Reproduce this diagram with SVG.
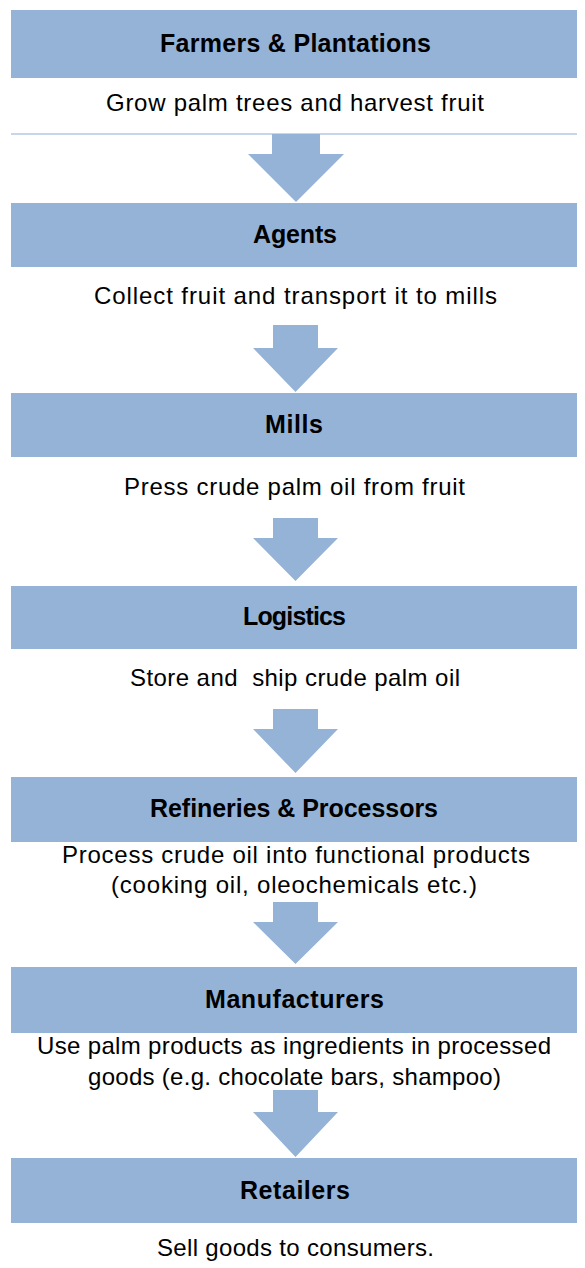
<svg xmlns="http://www.w3.org/2000/svg" width="585" height="1268" viewBox="0 0 585 1268">
<style>
.box{fill:#95b3d7}
.arr{fill:#95b3d7}
.t{font-family:"Liberation Sans",Arial,sans-serif;font-size:25px;font-weight:bold;fill:#000;text-anchor:middle}
.b{font-family:"Liberation Sans",Arial,sans-serif;font-size:24px;fill:#000;text-anchor:middle;white-space:pre}
</style>
<rect width="585" height="1268" fill="#fff"/>
<g id="connectors">
<line x1="11" y1="134" x2="577" y2="134" stroke="#b4c7e7" stroke-width="1.5"/>
<polygon class="arr" points="272,134 320,134 320,154 344,154 296,202 248,154 272,154"/>
<polygon class="arr" points="273,325 318,325 318,348 338,348 295.5,392 253,348 273,348"/>
<polygon class="arr" points="273,518 318,518 318,538 338,538 295.5,581 253,538 273,538"/>
<polygon class="arr" points="273,709 318,709 318,729 338,729 295.5,773 253,729 273,729"/>
<polygon class="arr" points="273,902 318,902 318,922 338,922 295.5,964 253,922 273,922"/>
<polygon class="arr" points="273,1090 318,1090 318,1112 338,1112 295.5,1157 253,1112 273,1112"/>
</g>
<g id="farmers">
<rect class="box" x="11" y="10" width="566" height="68"/>
<text class="t" x="295.5" y="52" textLength="271">Farmers &amp; Plantations</text>
<text class="b" x="295" y="111" textLength="378">Grow palm trees and harvest fruit</text>
</g>
<g id="agents">
<rect class="box" x="11" y="203" width="566" height="64"/>
<text class="t" x="295" y="243" textLength="84">Agents</text>
<text class="b" x="295.5" y="304" textLength="403">Collect fruit and transport it to mills</text>
</g>
<g id="mills">
<rect class="box" x="11" y="393" width="566" height="64"/>
<text class="t" x="294" y="433" textLength="58">Mills</text>
<text class="b" x="294.5" y="495" textLength="341">Press crude palm oil from fruit</text>
</g>
<g id="logistics">
<rect class="box" x="11" y="586" width="566" height="63"/>
<text class="t" x="294.5" y="625" textLength="103">Logistics</text>
<text class="b" x="295" y="686" textLength="330">Store and  ship crude palm oil</text>
</g>
<g id="refineries">
<rect class="box" x="11" y="777" width="566" height="65"/>
<text class="t" x="294" y="817" textLength="288">Refineries &amp; Processors</text>
<text class="b" x="296" y="863" textLength="468">Process crude oil into functional products</text>
<text class="b" x="294" y="893" textLength="366">(cooking oil, oleochemicals etc.)</text>
</g>
<g id="manufacturers">
<rect class="box" x="11" y="967" width="566" height="66"/>
<text class="t" x="294.5" y="1008" textLength="179">Manufacturers</text>
<text class="b" x="294" y="1054" textLength="514">Use palm products as ingredients in processed</text>
<text class="b" x="294.5" y="1085" textLength="413">goods (e.g. chocolate bars, shampoo)</text>
</g>
<g id="retailers">
<rect class="box" x="11" y="1158" width="566" height="65"/>
<text class="t" x="295" y="1199" textLength="110">Retailers</text>
<text class="b" x="295.5" y="1256" textLength="277">Sell goods to consumers.</text>
</g>
</svg>
